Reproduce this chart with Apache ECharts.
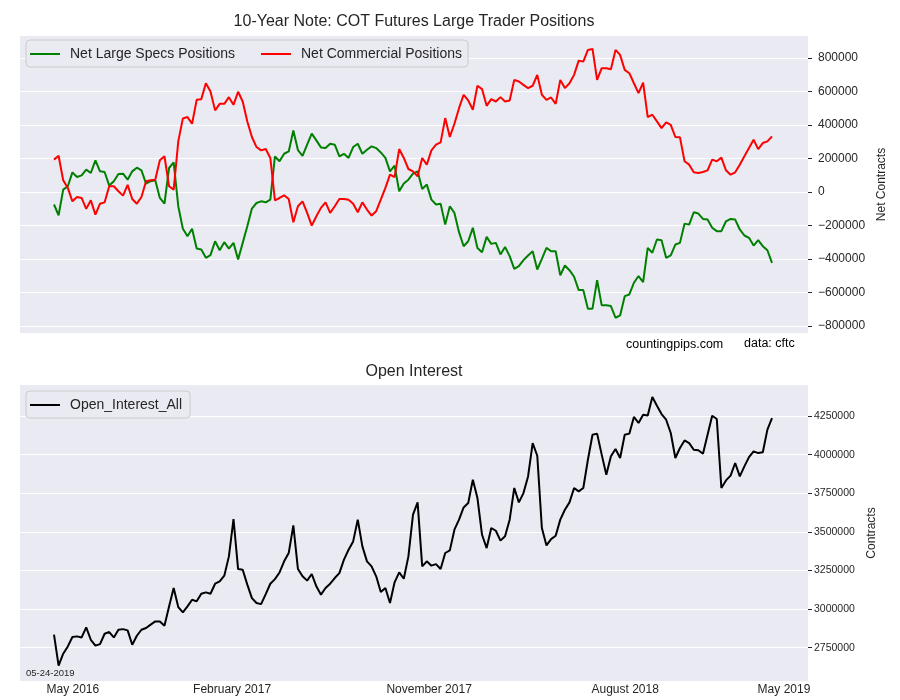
<!DOCTYPE html>
<html><head><meta charset="utf-8">
<script src="https://cdn.jsdelivr.net/npm/echarts@6.0.0/dist/echarts.min.js"></script>
<style>html,body{margin:0;padding:0;background:#fff}#c{width:900px;height:700px}</style>
</head><body><div id="c"></div>
<script>
// Weekly COT data, 2016-05-24 .. 2019-05-21 (157 weeks)
const specs = [
-75000,-139000,14000,34000,117000,89000,99000,133000,113000,189000,
123000,119000,38000,64000,107000,109000,73000,123000,145000,129000,
50000,64000,70000,-36000,-70000,143000,177000,-85000,-220000,-264000,
-220000,-338000,-344000,-393000,-377000,-294000,-348000,-300000,-338000,-304000,
-403000,-304000,-205000,-99000,-66000,-56000,-62000,-46000,212000,183000,
228000,242000,367000,250000,216000,282000,348000,308000,266000,262000,
288000,282000,212000,228000,203000,268000,288000,228000,252000,272000,
262000,236000,203000,123000,157000,4000,50000,73000,109000,123000,
18000,44000,-46000,-75000,-70000,-195000,-85000,-125000,-240000,-324000,
-294000,-214000,-334000,-360000,-268000,-310000,-304000,-373000,-328000,-383000,
-459000,-443000,-407000,-379000,-354000,-463000,-399000,-334000,-354000,-354000,
-498000,-439000,-467000,-506000,-586000,-586000,-697000,-697000,-526000,-677000,
-677000,-681000,-751000,-737000,-622000,-612000,-542000,-502000,-538000,-334000,
-363000,-284000,-288000,-393000,-379000,-314000,-304000,-189000,-195000,-121000,
-129000,-161000,-165000,-214000,-234000,-234000,-175000,-161000,-165000,-224000,
-260000,-274000,-320000,-288000,-324000,-348000,-423000
];
const commercial = [
193000,216000,70000,24000,-56000,-30000,-36000,-101000,-50000,-135000,
-70000,-62000,34000,34000,4000,-22000,42000,-42000,-70000,-30000,
64000,70000,73000,189000,213000,34000,14000,302000,439000,447000,
407000,550000,554000,649000,600000,487000,526000,526000,566000,520000,
598000,540000,421000,328000,268000,248000,256000,203000,-50000,-36000,
-20000,-42000,-181000,-85000,-56000,-125000,-201000,-145000,-95000,-62000,
-125000,-85000,-42000,-42000,-46000,-70000,-121000,-62000,-105000,-141000,
-115000,-46000,24000,103000,89000,256000,203000,137000,123000,93000,
203000,163000,248000,282000,296000,441000,328000,407000,500000,580000,
546000,491000,634000,614000,514000,554000,540000,566000,540000,546000,
669000,659000,639000,620000,634000,699000,580000,550000,564000,526000,
669000,620000,649000,699000,784000,778000,848000,854000,669000,739000,
739000,733000,848000,818000,729000,709000,649000,590000,653000,447000,
461000,421000,381000,415000,401000,328000,326000,183000,163000,117000,
113000,119000,129000,193000,183000,205000,129000,103000,117000,163000,
213000,262000,312000,256000,292000,302000,332000
];
const openInterest = [
2834000,2633000,2711000,2758000,2819000,2823000,2816000,2881000,2801000,2763000,
2773000,2840000,2851000,2816000,2866000,2870000,2862000,2769000,2827000,2866000,
2877000,2899000,2920000,2920000,2892000,3017000,3136000,3013000,2978000,3017000,
3060000,3050000,3099000,3108000,3099000,3164000,3179000,3216000,3341000,3583000,
3259000,3255000,3158000,3071000,3039000,3032000,3097000,3164000,3194000,3237000,
3309000,3363000,3542000,3259000,3212000,3184000,3227000,3147000,3093000,3136000,
3164000,3201000,3233000,3320000,3384000,3438000,3579000,3406000,3309000,3276000,
3212000,3110000,3136000,3039000,3173000,3237000,3196000,3341000,3611000,3691000,
3276000,3309000,3281000,3291000,3259000,3363000,3380000,3514000,3579000,3658000,
3687000,3838000,3719000,3481000,3395000,3525000,3507000,3443000,3471000,3579000,
3784000,3691000,3751000,3859000,4075000,3993000,3525000,3412000,3453000,3475000,
3579000,3643000,3691000,3784000,3762000,3784000,3967000,4129000,4136000,4000000,
3870000,3989000,4036000,3978000,4129000,4136000,4244000,4205000,4259000,4254000,
4373000,4317000,4263000,4226000,4140000,3978000,4043000,4092000,4075000,4032000,
4028000,4006000,4129000,4252000,4231000,3784000,3833000,3864000,3946000,3859000,
3924000,3984000,4021000,4010000,4015000,4162000,4237000
];
const dateLabels = ['May 2016','February 2017','November 2017','August 2018','May 2019'];
const dateLabelWeeks = [4.1, 38.7, 81.5, 124.1, 158.6];
const netTicks = [-800000,-600000,-400000,-200000,0,200000,400000,600000,800000];
const oiTicks = [2750000,3000000,3250000,3500000,3750000,4000000,4250000];

const FONT = '"Liberation Sans", Arial, sans-serif';
const TXT = '#262626';
const toXY = arr => arr.map((v, i) => [i, v]);
const xMin = -7.387, xMax = 163.82;

function xAxisCfg(gridIndex, showLabels) {
  return {
    type: 'value', gridIndex, min: xMin, max: xMax,
    axisLine: {show: false, onZero: false}, splitLine: {show: false},
    axisTick: {show: false, customValues: dateLabelWeeks},
    axisLabel: {
      show: showLabels, customValues: dateLabelWeeks, margin: 3,
      fontSize: 12, color: TXT, fontFamily: FONT,
      formatter: v => {
        let best = 0;
        dateLabelWeeks.forEach((w, k) => { if (Math.abs(w - v) < Math.abs(dateLabelWeeks[best] - v)) best = k; });
        return dateLabels[best];
      }
    }
  };
}
function yAxisCfg(gridIndex, min, max, ticks, name, nameGap, labelSize, labelMargin) {
  return {
    type: 'value', gridIndex, position: 'right', min, max,
    name, nameLocation: 'middle', nameRotate: 90, nameGap,
    nameTextStyle: {fontSize: 12, color: TXT, fontFamily: FONT},
    axisLine: {show: false, onZero: false},
    axisTick: {show: true, length: 4, customValues: ticks, lineStyle: {color: TXT, width: 1}},
    axisLabel: {
      customValues: ticks, margin: labelMargin, fontSize: labelSize, color: TXT, fontFamily: FONT,
      formatter: v => v < 0 ? '\u2212' + (-v) : String(v)
    },
    splitLine: {show: true, lineStyle: {color: '#ffffff', width: 1}}
  };
}
const legendBase = {
  orient: 'horizontal', icon: 'rect', itemWidth: 30, itemHeight: 2, itemGap: 26,
  padding: [7, 6, 6, 4], backgroundColor: '#eaeaf2', borderColor: '#cccccc',
  borderWidth: 1, borderRadius: 4, selectedMode: false,
  textStyle: {fontSize: 14, color: TXT, fontFamily: FONT, padding: [0, 0, 0, 5]}
};

const chart = echarts.init(document.getElementById('c'), null, {renderer: 'canvas'});
chart.setOption({
  animation: false,
  backgroundColor: '#ffffff',
  title: [
    {text: '10-Year Note: COT Futures Large Trader Positions', left: 414, top: 14, textAlign: 'center', padding: 0,
     textStyle: {fontSize: 16, fontWeight: 'normal', color: TXT, fontFamily: FONT}},
    {text: 'Open Interest', left: 414, top: 364, textAlign: 'center', padding: 0,
     textStyle: {fontSize: 16, fontWeight: 'normal', color: TXT, fontFamily: FONT}}
  ],
  legend: [
    Object.assign({}, legendBase, {data: ['Net Large Specs Positions', 'Net Commercial Positions'], left: 26, top: 40}),
    Object.assign({}, legendBase, {data: ['Open_Interest_All'], left: 26, top: 391, padding: [7, 8, 6, 4]})
  ],
  grid: [
    {left: 20, top: 36, width: 788, height: 297, show: true, backgroundColor: '#eaeaf2', borderWidth: 0},
    {left: 20, top: 385, width: 788, height: 296, show: true, backgroundColor: '#eaeaf2', borderWidth: 0}
  ],
  xAxis: [xAxisCfg(0, false), xAxisCfg(1, true)],
  yAxis: [
    yAxisCfg(0, -842000, 931000, netTicks, 'Net Contracts', 60, 12, 10),
    yAxisCfg(1, 2534000, 4451000, oiTicks, 'Contracts', 47, 10.5, 6)
  ],
  series: [
    {type: 'line', name: 'Net Large Specs Positions', xAxisIndex: 0, yAxisIndex: 0, data: toXY(specs),
     showSymbol: false, symbol: 'none', lineStyle: {width: 2, color: '#008000'}, itemStyle: {color: '#008000'}},
    {type: 'line', name: 'Net Commercial Positions', xAxisIndex: 0, yAxisIndex: 0, data: toXY(commercial),
     showSymbol: false, symbol: 'none', lineStyle: {width: 2, color: '#ff0000'}, itemStyle: {color: '#ff0000'}},
    {type: 'line', name: 'Open_Interest_All', xAxisIndex: 1, yAxisIndex: 1, data: toXY(openInterest),
     showSymbol: false, symbol: 'none', lineStyle: {width: 2, color: '#000000'}, itemStyle: {color: '#000000'}}
  ],
  graphic: [
    {type: 'text', left: 626, top: 338, z: 100, style: {text: 'countingpips.com', fontSize: 12.5, fill: '#000', fontFamily: FONT}},
    {type: 'text', left: 744, top: 337, z: 100, style: {text: 'data: cftc', fontSize: 12.5, fill: '#000', fontFamily: FONT}},
    {type: 'text', left: 26, top: 668, z: 100, style: {text: '05-24-2019', fontSize: 9.5, fill: TXT, fontFamily: FONT}}
  ]
});
</script></body></html>
